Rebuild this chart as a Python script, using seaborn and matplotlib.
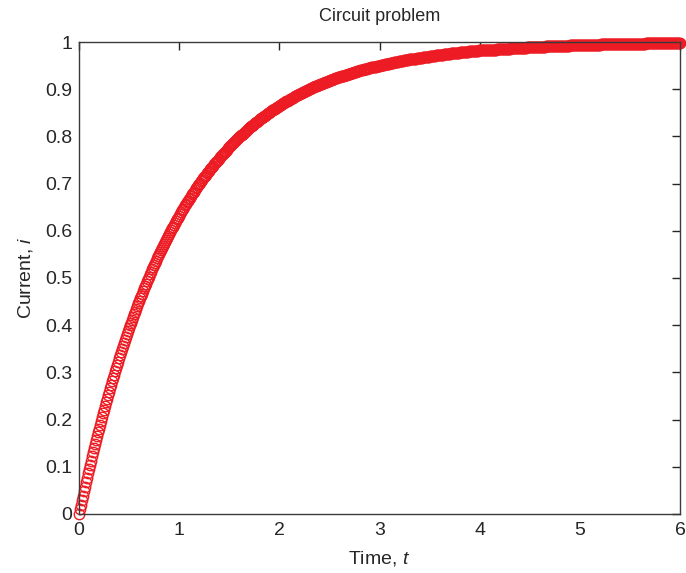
import numpy as np
import seaborn as sns
import matplotlib.pyplot as plt

# Current at every 0.01 of time (0.00 ... 6.00)
# t = 0.00 ... 0.60
current_early = [
    0.000, 0.010, 0.020, 0.030, 0.039, 0.049, 0.058, 0.068, 0.077, 0.086,
    0.095, 0.104, 0.113, 0.122, 0.131, 0.139, 0.148, 0.156, 0.165, 0.173,
    0.181, 0.189, 0.197, 0.205, 0.213, 0.221, 0.229, 0.237, 0.244, 0.252,
    0.259, 0.267, 0.274, 0.281, 0.288, 0.295, 0.302, 0.309, 0.316, 0.323,
    0.330, 0.336, 0.343, 0.349, 0.356, 0.362, 0.369, 0.375, 0.381, 0.387,
    0.393, 0.400, 0.405, 0.411, 0.417, 0.423, 0.429, 0.434, 0.440, 0.446,
    0.451,
]
# t = 0.61 ... 2.00
current_mid = [
    0.457, 0.462, 0.467, 0.473, 0.478, 0.483, 0.488, 0.493, 0.498, 0.503,
    0.508, 0.513, 0.518, 0.523, 0.528, 0.532, 0.537, 0.542, 0.546, 0.551,
    0.555, 0.560, 0.564, 0.568, 0.573, 0.577, 0.581, 0.585, 0.589, 0.593,
    0.597, 0.601, 0.605, 0.609, 0.613, 0.617, 0.621, 0.625, 0.628, 0.632,
    0.636, 0.639, 0.643, 0.647, 0.650, 0.654, 0.657, 0.660, 0.664, 0.667,
    0.670, 0.674, 0.677, 0.680, 0.683, 0.687, 0.690, 0.693, 0.696, 0.699,
    0.702, 0.705, 0.708, 0.711, 0.713, 0.716, 0.719, 0.722, 0.725, 0.727,
    0.730, 0.733, 0.736, 0.738, 0.741, 0.743, 0.746, 0.748, 0.751, 0.753,
    0.756, 0.758, 0.761, 0.763, 0.765, 0.768, 0.770, 0.772, 0.775, 0.777,
    0.779, 0.781, 0.783, 0.786, 0.788, 0.790, 0.792, 0.794, 0.796, 0.798,
    0.800, 0.802, 0.804, 0.806, 0.808, 0.810, 0.812, 0.814, 0.815, 0.817,
    0.819, 0.821, 0.823, 0.824, 0.826, 0.828, 0.830, 0.831, 0.833, 0.835,
    0.836, 0.838, 0.840, 0.841, 0.843, 0.844, 0.846, 0.847, 0.849, 0.850,
    0.852, 0.853, 0.855, 0.856, 0.858, 0.859, 0.861, 0.862, 0.863, 0.865,
]
# t = 2.01 ... 6.00
current_late = [
    0.866, 0.867, 0.869, 0.870, 0.871, 0.873, 0.874, 0.875, 0.876, 0.878,
    0.879, 0.880, 0.881, 0.882, 0.884, 0.885, 0.886, 0.887, 0.888, 0.889,
    0.890, 0.891, 0.892, 0.894, 0.895, 0.896, 0.897, 0.898, 0.899, 0.900,
    0.901, 0.902, 0.903, 0.904, 0.905, 0.906, 0.907, 0.907, 0.908, 0.909,
    0.910, 0.911, 0.912, 0.913, 0.914, 0.915, 0.915, 0.916, 0.917, 0.918,
    0.919, 0.920, 0.920, 0.921, 0.922, 0.923, 0.923, 0.924, 0.925, 0.926,
    0.926, 0.927, 0.928, 0.929, 0.929, 0.930, 0.931, 0.931, 0.932, 0.933,
    0.933, 0.934, 0.935, 0.935, 0.936, 0.937, 0.937, 0.938, 0.939, 0.939,
    0.940, 0.940, 0.941, 0.942, 0.942, 0.943, 0.943, 0.944, 0.944, 0.945,
    0.946, 0.946, 0.947, 0.947, 0.948, 0.948, 0.949, 0.949, 0.950, 0.950,
    0.951, 0.951, 0.952, 0.952, 0.953, 0.953, 0.954, 0.954, 0.954, 0.955,
    0.955, 0.956, 0.956, 0.957, 0.957, 0.958, 0.958, 0.958, 0.959, 0.959,
    0.960, 0.960, 0.960, 0.961, 0.961, 0.962, 0.962, 0.962, 0.963, 0.963,
    0.963, 0.964, 0.964, 0.965, 0.965, 0.965, 0.966, 0.966, 0.966, 0.967,
    0.967, 0.967, 0.968, 0.968, 0.968, 0.969, 0.969, 0.969, 0.969, 0.970,
    0.970, 0.970, 0.971, 0.971, 0.971, 0.972, 0.972, 0.972, 0.972, 0.973,
    0.973, 0.973, 0.973, 0.974, 0.974, 0.974, 0.975, 0.975, 0.975, 0.975,
    0.976, 0.976, 0.976, 0.976, 0.976, 0.977, 0.977, 0.977, 0.977, 0.978,
    0.978, 0.978, 0.978, 0.979, 0.979, 0.979, 0.979, 0.979, 0.980, 0.980,
    0.980, 0.980, 0.980, 0.981, 0.981, 0.981, 0.981, 0.981, 0.982, 0.982,
    0.982, 0.982, 0.982, 0.982, 0.983, 0.983, 0.983, 0.983, 0.983, 0.983,
    0.984, 0.984, 0.984, 0.984, 0.984, 0.984, 0.985, 0.985, 0.985, 0.985,
    0.985, 0.985, 0.985, 0.986, 0.986, 0.986, 0.986, 0.986, 0.986, 0.986,
    0.987, 0.987, 0.987, 0.987, 0.987, 0.987, 0.987, 0.987, 0.988, 0.988,
    0.988, 0.988, 0.988, 0.988, 0.988, 0.988, 0.989, 0.989, 0.989, 0.989,
    0.989, 0.989, 0.989, 0.989, 0.989, 0.990, 0.990, 0.990, 0.990, 0.990,
    0.990, 0.990, 0.990, 0.990, 0.990, 0.991, 0.991, 0.991, 0.991, 0.991,
    0.991, 0.991, 0.991, 0.991, 0.991, 0.991, 0.992, 0.992, 0.992, 0.992,
    0.992, 0.992, 0.992, 0.992, 0.992, 0.992, 0.992, 0.992, 0.992, 0.993,
    0.993, 0.993, 0.993, 0.993, 0.993, 0.993, 0.993, 0.993, 0.993, 0.993,
    0.993, 0.993, 0.993, 0.994, 0.994, 0.994, 0.994, 0.994, 0.994, 0.994,
    0.994, 0.994, 0.994, 0.994, 0.994, 0.994, 0.994, 0.994, 0.994, 0.994,
    0.995, 0.995, 0.995, 0.995, 0.995, 0.995, 0.995, 0.995, 0.995, 0.995,
    0.995, 0.995, 0.995, 0.995, 0.995, 0.995, 0.995, 0.995, 0.995, 0.995,
    0.996, 0.996, 0.996, 0.996, 0.996, 0.996, 0.996, 0.996, 0.996, 0.996,
    0.996, 0.996, 0.996, 0.996, 0.996, 0.996, 0.996, 0.996, 0.996, 0.996,
    0.996, 0.996, 0.996, 0.996, 0.996, 0.997, 0.997, 0.997, 0.997, 0.997,
    0.997, 0.997, 0.997, 0.997, 0.997, 0.997, 0.997, 0.997, 0.997, 0.997,
    0.997, 0.997, 0.997, 0.997, 0.997, 0.997, 0.997, 0.997, 0.997, 0.997,
    0.997, 0.997, 0.997, 0.997, 0.997, 0.997, 0.997, 0.997, 0.997, 0.998,
]

current = np.array(current_early + current_mid + current_late)
time = np.linspace(0.0, 6.0, len(current))

x_ticks = [0, 1, 2, 3, 4, 5, 6]
y_ticks = [0, 0.1, 0.2, 0.3, 0.4, 0.5, 0.6, 0.7, 0.8, 0.9, 1]
y_labels = ['0', '0.1', '0.2', '0.3', '0.4', '0.5', '0.6', '0.7', '0.8', '0.9', '1']

sns.set_theme(style="white")
plt.rcParams['font.family'] = ['Liberation Sans', 'DejaVu Sans']
plt.rcParams['mathtext.fontset'] = 'custom'
plt.rcParams['mathtext.rm'] = 'Liberation Sans'
plt.rcParams['mathtext.it'] = 'Liberation Sans:italic'

red = '#ED1C24'
axis_col = '#262626'

fig = plt.figure(figsize=(6.86, 5.73), dpi=100)
ax = fig.add_axes([0.1152, 0.1030, 0.8761, 0.8237])

sns.lineplot(x=time, y=current, ax=ax, estimator=None, sort=False,
             linestyle='', marker='o', markersize=7.5, color=red,
             markerfacecolor='none', markeredgecolor=red, markeredgewidth=1.0,
             clip_on=False)

ax.set_xlim(0, 6)
ax.set_ylim(0, 1)
ax.set_xticks(x_ticks)
ax.set_yticks(y_ticks)
ax.set_yticklabels(y_labels)
ax.tick_params(direction='in', length=6, width=1, colors=axis_col,
               labelsize=14, top=True, right=True, pad=6)
ax.tick_params(axis='y', pad=5)
for s in ax.spines.values():
    s.set_color('#3a3a3a')
    s.set_linewidth(1)
    s.set_visible(True)
    s.set_zorder(3)

ax.set_xlabel(r'Time, $\it{t}$', fontsize=14, color=axis_col, labelpad=7)
ax.set_ylabel(r'Current, $\it{i}$', fontsize=14, color=axis_col, labelpad=7)
ax.set_title('Circuit problem', fontsize=13, color=axis_col, pad=15)

fig.savefig('out.png', dpi=100)
